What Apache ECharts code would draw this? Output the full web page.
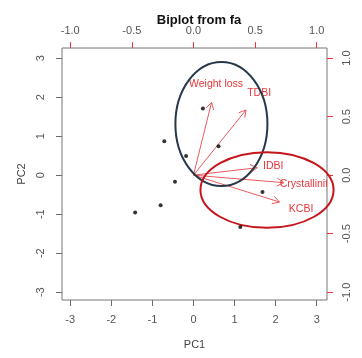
<!DOCTYPE html>
<html><head><meta charset="utf-8">
<script src="https://cdn.jsdelivr.net/npm/echarts@6/dist/echarts.min.js"></script>
<style>html,body{margin:0;padding:0;background:#fff}#c{width:362px;height:358px}</style>
</head><body><div id="c"></div>
<script>
// Scores (PC1, PC2)
const scoreX = [0.23, -0.71, 0.61, -0.18, -0.45, -0.80, -1.42, 1.68, 1.14];
const scoreY = [1.71, 0.87, 0.74, 0.49, -0.17, -0.77, -0.96, -0.43, -1.33];
// Variable loadings (secondary axes)
const varNames = ['Weight loss', 'TDBI', 'IDBI', 'Crystallinity', 'KCBI'];
const loadX = [0.183, 0.533, 0.647, 0.917, 0.873];
const loadY = [0.777, 0.697, 0.08, -0.08, -0.287];
// Ticks
const pcTicks = [-3, -2, -1, 0, 1, 2, 3];
const loadTicks = [-1, -0.5, 0, 0.5, 1];
// Group ellipses (PC units): centre x, centre y, radius x, radius y
const ellCX = [0.68, 1.79];
const ellCY = [1.31, -0.38];
const ellRX = [1.12, 1.62];
const ellRY = [1.59, 0.97];
const ellColors = ['#27384a', '#c4161c'];

const xMin = -3.2, xMax = 3.25, yMin = -3.2, yMax = 3.26;
const chart = echarts.init(document.getElementById('c'));
const font = 'Liberation Sans, Arial, sans-serif';
const gray = '#6b6b6b';
const red = '#e8363c';

function axisCommon(ticks, tickColor, fmt, rotate, margin) {
  return {
    axisLine: {show: false, onZero: false},
    splitLine: {show: false},
    axisTick: {show: true, customValues: ticks, length: 6, lineStyle: {color: tickColor, width: 1}},
    axisLabel: {customValues: ticks, color: '#555', fontSize: 11, fontFamily: font, rotate: rotate, margin: margin, formatter: fmt}
  };
}

const option = {
  animation: false,
  title: {text: 'Biplot from fa', left: 194, top: 9, textAlign: 'center',
    textStyle: {fontSize: 13, fontWeight: 'bold', color: '#111', fontFamily: font}},
  grid: {left: 62, right: 35, top: 48, bottom: 58, show: true, borderColor: '#777', borderWidth: 1, backgroundColor: 'transparent'},
  xAxis: [
    Object.assign({type: 'value', position: 'bottom', min: xMin, max: xMax, name: 'PC1', nameLocation: 'middle', nameGap: 39,
      nameTextStyle: {fontSize: 11, color: '#444', fontFamily: font}},
      axisCommon(pcTicks, gray, v => String(v), 0, 14)),
    Object.assign({type: 'value', position: 'top', min: xMin / 3, max: xMax / 3},
      axisCommon(loadTicks, red, v => v.toFixed(1), 0, 12))
  ],
  yAxis: [
    Object.assign({type: 'value', position: 'left', min: yMin, max: yMax, name: 'PC2', nameLocation: 'middle', nameGap: 33, nameRotate: 90,
      nameTextStyle: {fontSize: 11, color: '#444', fontFamily: font}},
      axisCommon(pcTicks, gray, v => String(v), 90, 16)),
    Object.assign({type: 'value', position: 'right', min: yMin / 3, max: yMax / 3},
      axisCommon(loadTicks, red, v => v.toFixed(1), 90, 14))
  ],
  series: [
    {
      type: 'scatter', xAxisIndex: 0, yAxisIndex: 0, symbolSize: 4,
      itemStyle: {color: '#000'},
      data: scoreX.map((x, i) => [x, scoreY[i]])
    },
    {
      type: 'custom', xAxisIndex: 1, yAxisIndex: 1, clip: true,
      data: loadX.map((x, i) => [x, loadY[i], varNames[i]]),
      renderItem: function (params, api) {
        const x = api.value(0), y = api.value(1);
        const o = api.coord([0, 0]);
        const t = api.coord([0.8 * x, 0.8 * y]);
        const l = api.coord([x, y]);
        const ang = Math.atan2(t[1] - o[1], t[0] - o[0]);
        const hl = 8, ha = Math.PI / 6;
        const p1 = [t[0] - hl * Math.cos(ang - ha), t[1] - hl * Math.sin(ang - ha)];
        const p2 = [t[0] - hl * Math.cos(ang + ha), t[1] - hl * Math.sin(ang + ha)];
        return {
          type: 'group',
          children: [
            {type: 'line', shape: {x1: o[0], y1: o[1], x2: t[0], y2: t[1]}, style: {stroke: '#e85a5e', lineWidth: 1}},
            {type: 'polyline', shape: {points: [p1, t, p2]}, style: {stroke: '#e85a5e', lineWidth: 1, fill: null}},
            {type: 'text', x: l[0], y: l[1], style: {text: api.value(2), fill: red, fontSize: 10.5, fontFamily: font, align: 'center', verticalAlign: 'middle'}}
          ]
        };
      }
    },
    {
      type: 'custom', xAxisIndex: 0, yAxisIndex: 0, clip: false,
      data: ellCX.map((cx, i) => [cx, ellCY[i], ellRX[i], ellRY[i], i]),
      renderItem: function (params, api) {
        const c = api.coord([api.value(0), api.value(1)]);
        const s = api.size([api.value(2), api.value(3)]);
        return {
          type: 'ellipse',
          shape: {cx: c[0], cy: c[1], rx: s[0], ry: s[1]},
          style: {stroke: ellColors[api.value(4)], lineWidth: 2, fill: null}
        };
      }
    }
  ]
};
chart.setOption(option);
</script>
</body></html>
